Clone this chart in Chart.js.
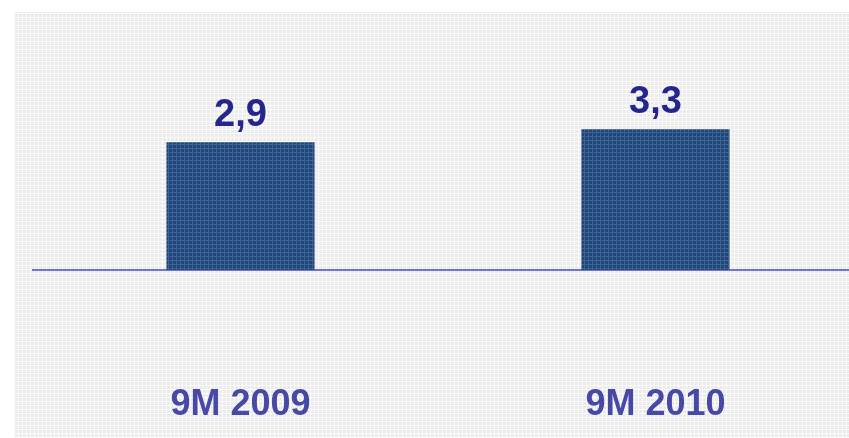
<!DOCTYPE html>
<html>
<head>
<meta charset="utf-8">
<script src="https://cdn.jsdelivr.net/npm/chart.js@4"></script>
<style>
  html, body { margin: 0; padding: 0; background: #fff; overflow: hidden; }
  #wrap { position: relative; width: 849px; height: 438px; overflow: hidden; }
  #bg {
    position: absolute; left: 14px; top: 12px; right: 0; bottom: 0;
    background-color: #ebebeb;
    background-image:
      repeating-linear-gradient(90deg, #fbfbfb 0 1px, transparent 1px 4px),
      repeating-linear-gradient(0deg, #fbfbfb 0 1px, transparent 1px 4px);
  }
  #myChart { position: absolute; left: 0; top: 0; }
</style>
</head>
<body>
<div id="wrap">
  <div id="bg"></div>
  <canvas id="myChart" width="863" height="438"></canvas>
</div>
<script>
const categories = ["9M 2009", "9M 2010"];
const values = [2.9, 3.3];
const valueLabels = ["2,9", "3,3"];

// bar texture, a dark blue with a fine lighter grid
const tex = document.createElement("canvas");
tex.width = 4;
tex.height = 4;
const tctx = tex.getContext("2d");
tctx.fillStyle = "#1f4676";
tctx.fillRect(0, 0, 4, 4);
tctx.fillStyle = "#3a6292";
tctx.fillRect(0, 0, 4, 1);
tctx.fillRect(0, 0, 1, 4);
const barFill = document.createElement("canvas").getContext("2d").createPattern(tex, "repeat");

//labels above the bars
const valueLabelPlugin = {
  id: "valueLabels",
  afterDatasetsDraw(chart) {
    const ctx = chart.ctx;
    const meta = chart.getDatasetMeta(0);
    ctx.save();
    ctx.font = "bold 38px 'Liberation Sans', Arial, sans-serif";
    ctx.fillStyle = "#25258e";
    ctx.textAlign = "center";
    ctx.textBaseline = "alphabetic";
    meta.data.forEach((bar, i) => {
      ctx.fillText(valueLabels[i], bar.x, bar.y - 16);
    });
    ctx.restore();
  },
};

const myChart = new Chart("myChart", {
  type: "bar",
  data: {
    labels: categories,
    datasets: [
      {
        data: values,
        base: -1,
        backgroundColor: barFill,
        borderWidth: 0,
        categoryPercentage: 1,
        barPercentage: 0.357,
      },
    ],
  },
  options: {
    responsive: false,
    animation: false,
    layout: { padding: { left: 33, right: 0, top: 8, bottom: 12 } },
    plugins: { legend: { display: false }, tooltip: { enabled: false } },
    scales: {
      x: {
        grid: { display: false, drawTicks: false },
        border: { display: true, color: "#7474c8", width: 2 },
        afterFit(scale) {
          scale.height = 156;
        },
        ticks: {
          padding: 113,
          maxRotation: 0,
          color: "#4848a6",
          font: { family: "'Liberation Sans', Arial, sans-serif", size: 36, weight: "bold" },
        },
      },
      y: {
        display: false,
        min: -1,
        max: 7,
      },
    },
  },
  plugins: [valueLabelPlugin],
});
</script>
</body>
</html>
